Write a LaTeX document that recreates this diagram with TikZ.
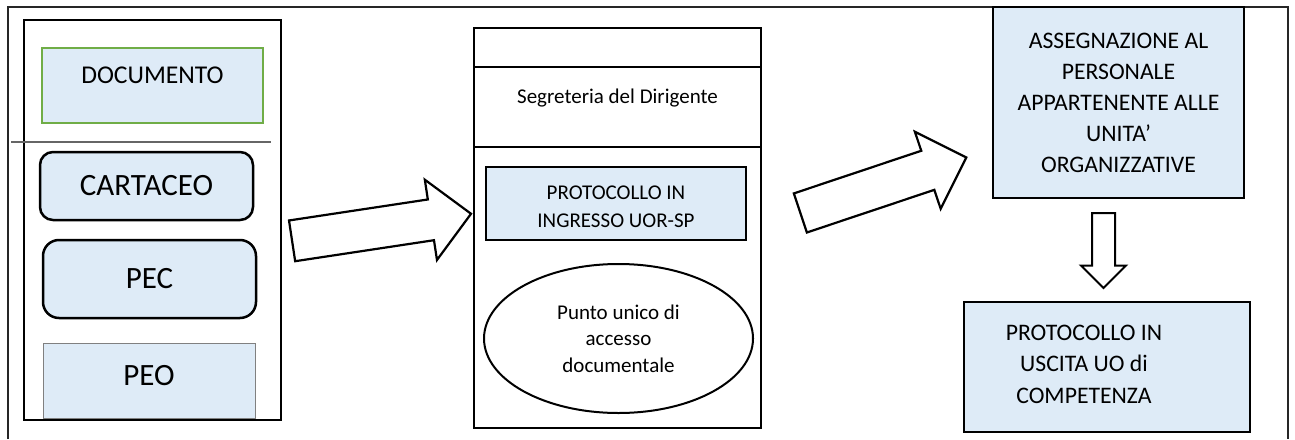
\documentclass[tikz,border=0pt]{standalone}
\usepackage{fontspec}
\setmainfont{Carlito}
\usetikzlibrary{shapes.geometric,shapes.arrows}
\definecolor{boxblue}{RGB}{222,235,247}
\definecolor{docgreen}{RGB}{112,173,71}
\tikzset{% boxes and block arrows
    bluebox/.style={draw, line width=2.3pt, fill=boxblue, inner sep=0pt, align=center},
    roundbox/.style={bluebox, rounded corners=13pt, line width=2.5pt},
    blockarrow/.style={draw, line width=2.2pt, fill=white, single arrow, single arrow head extend=20pt, inner xsep=0pt, inner ysep=19.5pt}
}

\begin{document}
\begin{tikzpicture}[x=1pt, y=-1pt]
    \newcommand{\bigtxt}{\fontsize{31}{36}\selectfont}
    \newcommand{\midtxt}{\fontsize{23.7}{31.5}\selectfont}
    \newcommand{\smalltxt}{\fontsize{21}{28}\selectfont}
    \useasboundingbox (0,0) rectangle (1295,439);

    % frame
    \draw[line width=2pt, black!85] (8,439) -- (8,7) -- (1288,7) -- (1288,439);

    % left column
    \node[draw, line width=2.7pt, minimum width=257pt, minimum height=400pt, inner sep=0pt] (documenti) at (152.5,220) {};
    \node[bluebox, draw=docgreen, line width=1.2pt, minimum width=221pt, text height=35pt, text depth=40pt, font=\fontsize{25.6}{30}\selectfont] (documento) at (152.5,85.5) {DOCUMENTO};
    \draw[line width=1.2pt, black!60] (11,142) -- (271,142);
    \node[roundbox, minimum width=213pt, minimum height=68pt, font=\bigtxt] (cartaceo) at (146.5,186) {CARTACEO};
    \node[roundbox, rounded corners=16pt, minimum width=213pt, minimum height=78pt, font=\bigtxt] (pec) at (149.5,279) {PEC};
    \node[bluebox, draw=black!50, line width=1pt, minimum width=212pt, minimum height=75pt, text depth=11pt, font=\bigtxt] (peo) at (149,380.5) {PEO};

    % centre column
    \node[draw, line width=2.3pt, minimum width=287pt, minimum height=400pt, inner sep=0pt] (ufficio) at (617.5,228) {};
    \node[draw, line width=2.3pt, minimum width=287pt, inner sep=0pt, text height=36pt, text depth=44pt, font=\smalltxt] (segreteria) at (617.5,107) {Segreteria del Dirigente};
    \node[bluebox, minimum width=260pt, minimum height=73pt] (ingresso) at (616,203.5) {};
    \node[align=center, inner sep=0pt, font=\smalltxt] (ingressotesto) at (616,207) {PROTOCOLLO IN\\INGRESSO UOR-SP};
    \node[draw, ellipse, line width=2pt, minimum width=269pt, minimum height=149pt, inner sep=0pt, align=center, font=\fontsize{21}{26.5}\selectfont] (punto) at (618.5,338.5) {Punto unico di\\accesso\\documentale};

    % right column
    \node[bluebox, minimum width=251pt, minimum height=191pt, font=\fontsize{23.7}{31}\selectfont] (assegnazione) at (1118.5,102.5) {ASSEGNAZIONE AL\\PERSONALE\\APPARTENENTE ALLE\\UNITA’\\ORGANIZZATIVE};
    \node[bluebox, minimum width=286pt, minimum height=130pt] (uscita) at (1107,367) {};
    \node[align=center, inner sep=0pt, font=\midtxt] (uscitatesto) at (1084,364) {PROTOCOLLO IN\\USCITA UO di\\COMPETENZA};

    % block arrows
    \node[blockarrow, minimum height=181pt, rotate=8.6, anchor=tail] (freccia1) at (291,241) {};
    \node[blockarrow, minimum height=175pt, rotate=18.5, anchor=tail] (freccia2) at (799.3,213.3) {};
    \node[blockarrow, minimum height=75pt, inner ysep=10.5pt, single arrow head extend=11pt, line width=2pt, rotate=-90, anchor=tail] (freccia3) at (1103.5,212) {};
\end{tikzpicture}
\end{document}
